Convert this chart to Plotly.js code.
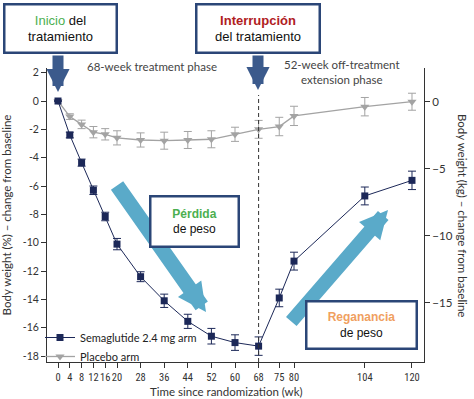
<!DOCTYPE html>
<html>
<head>
<meta charset="utf-8">
<script src="https://cdn.plot.ly/plotly-3.0.1.min.js"></script>
<style>html,body{margin:0;padding:0;background:#fff;}#chart{width:474px;height:399px;}</style>
</head>
<body>
<div id="chart"></div>
<script>
// Data
const weeks = [0, 4, 8, 12, 16, 20, 28, 36, 44, 52, 60, 68, 75, 80, 104, 120];
const semaglutide = [0, -2.4, -4.35, -6.3, -8.15, -10.1, -12.4, -14.1, -15.55, -16.6, -17.05, -17.3, -13.9, -11.3, -6.7, -5.6];
const semaglutideErr = [0, 0.2, 0.25, 0.3, 0.3, 0.4, 0.35, 0.47, 0.5, 0.55, 0.55, 0.65, 0.62, 0.63, 0.63, 0.65];
const placebo = [0, -1.1, -1.65, -2.2, -2.35, -2.6, -2.75, -2.8, -2.75, -2.7, -2.35, -2.0, -1.8, -1.05, -0.4, -0.05];
const placeboErr = [0, 0.2, 0.3, 0.4, 0.4, 0.5, 0.5, 0.6, 0.6, 0.6, 0.5, 0.63, 0.65, 0.68, 0.65, 0.6];
const xTicks = [0, 4, 8, 12, 16, 20, 28, 36, 44, 52, 60, 68, 75, 80, 104, 120];
const leftTicks = [2, 0, -2, -4, -6, -8, -10, -12, -14, -16, -18];
const rightTicks = [0, -5, -10, -15];
const seriesNames = ['Semaglutide 2.4 mg arm', 'Placebo arm'];

const navy = '#1c2858';
const gray = '#a3a3a3';
const boxBlue = '#2b4677';
const darkArrow = '#3b5a8c';
const lightArrow = '#5aaac9';
const FAM = 'Lato, "Open Sans", sans-serif';
const axisFont = {family: FAM, size: 10.5, color: '#333'};

const traces = [
  {
    x: weeks, y: placebo, name: seriesNames[1], type: 'scatter', mode: 'lines+markers',
    line: {color: gray, width: 1.3},
    marker: {symbol: 'triangle-down', size: 8, color: gray},
    error_y: {type: 'data', array: placeboErr, visible: true, color: gray, thickness: 1, width: 4}
  },
  {
    x: weeks, y: semaglutide, name: seriesNames[0], type: 'scatter', mode: 'lines+markers',
    line: {color: navy, width: 1},
    marker: {symbol: 'square', size: 7, color: navy},
    error_y: {type: 'data', array: semaglutideErr, visible: true, color: navy, thickness: 1, width: 4}
  },
  // empty trace so that the right (kg) axis is drawn
  {x: [], y: [], type: 'scatter', mode: 'markers', yaxis: 'y2', showlegend: false, hoverinfo: 'skip'}
];

function px(x) { return (x - 47) / 377; }
function py(y) { return (362 - y) / 294; }

function ann(x, y, text, extra) {
  return Object.assign({xref: 'paper', yref: 'paper', x: px(x), y: py(y), xanchor: 'center', yanchor: 'middle',
    text: text, showarrow: false}, extra || {});
}
function arrow(tipX, tipY, ax, ay, w, head, size, color) {
  return {xref: 'paper', yref: 'paper', x: px(tipX), y: py(tipY), ax: ax, ay: ay, text: '', showarrow: true,
    arrowhead: head, arrowwidth: w, arrowsize: size, arrowcolor: color, standoff: 0};
}
function boxStyle(size, w, h) {
  return {width: w, height: h, borderpad: 1, borderwidth: 2.5, bordercolor: boxBlue, bgcolor: '#fff',
    font: {family: '"Liberation Sans", Arial, sans-serif', size: size, color: '#111'}};
}

const layout = {
  width: 474, height: 399,
  margin: {l: 47, r: 50, t: 68, b: 37},
  paper_bgcolor: '#fff', plot_bgcolor: '#fff',
  font: axisFont,
  showlegend: true,
  legend: {
    x: px(40), y: py(371), xanchor: 'left', yanchor: 'bottom',
    bgcolor: 'rgba(0,0,0,0)', traceorder: 'reversed',
    font: {family: FAM, size: 11, color: '#222'},
    itemwidth: 30, tracegroupgap: 0
  },
  xaxis: {
    range: [-3.73, 124.07], tickmode: 'array', tickvals: xTicks, ticktext: xTicks.map(String), tickangle: 0,
    showline: true, linecolor: '#333', linewidth: 1, ticks: 'outside', ticklen: 5, tickcolor: '#333',
    showgrid: false, zeroline: false, automargin: false,
    tickfont: {family: '"Liberation Sans Narrow", "Roboto Condensed", Lato, sans-serif', size: 10.5, color: '#333'}
  },
  yaxis: {
    range: [-18.42, 2.33], tickmode: 'array', tickvals: leftTicks, ticktext: leftTicks.map(String),
    showline: true, linecolor: '#333', linewidth: 1, ticks: 'outside', ticklen: 5, tickcolor: '#333',
    showgrid: false, zeroline: false, tickfont: axisFont, automargin: false,
    title: {text: 'Body weight (%) – change from baseline', font: {family: FAM, size: 11.5, color: '#333'}, standoff: 8}
  },
  yaxis2: {
    overlaying: 'y', side: 'right', range: [-19.4, 2.51], automargin: false,
    tickmode: 'array', tickvals: rightTicks, ticktext: rightTicks.map(v => v === 0 ? '0' : '\u2212' + Math.abs(v)),
    showline: true, linecolor: '#333', linewidth: 1, ticks: 'outside', ticklen: 5, tickcolor: '#333',
    showgrid: false, zeroline: false, tickfont: {family: FAM, size: 11.5, color: '#333'}
  },
  shapes: [
    {type: 'line', xref: 'x', yref: 'paper', x0: 68, x1: 68, y0: 0, y1: py(95),
     line: {color: '#333', width: 1, dash: '4px,3px'}}
  ],
  annotations: [
    // x axis title
    ann(226.5, 392, 'Time since randomization (wk)', {font: {family: FAM, size: 11.5, color: '#333'}}),
    // right axis title (reads top to bottom)
    ann(463, 215, 'Body weight (kg) – change from baseline', {textangle: 90, font: {family: FAM, size: 11.5, color: '#333'}}),
    // phase labels
    ann(152, 66, '68-week treatment phase', {font: {family: FAM, size: 11.5, color: '#444'}}),
    ann(342, 72, '52-week off-treatment<br>extension phase', {font: {family: FAM, size: 11.5, color: '#444'}}),
    // dark arrows
    arrow(58, 92, 0, -38, 11, 2, 0.42, darkArrow),
    arrow(258, 90, 0, -36, 11, 2, 0.42, darkArrow),
    // light blue arrows
    arrow(206, 312, -90, -128, 15, 2, 0.38, lightArrow),
    arrow(388, 210, -98, 113, 14, 2, 0.4, lightArrow),
    // boxes
    ann(60, 28.5, '<span style="color:#4caf50">Inicio</span> del<br>tratamiento', boxStyle(13, 108, 44)),
    ann(258, 28.5, '<b><span style="color:#b0201e">Interrupción</span></b><br>del tratamiento', boxStyle(13, 119, 44)),
    ann(194.5, 221, '<b><span style="color:#4caf50">Pérdida</span></b><br>de peso', boxStyle(12, 84, 46)),
    ann(361.5, 325, '<b><span style="color:#f0a060">Reganancia</span></b><br>de peso', boxStyle(12, 106, 43))
  ]
};

Plotly.newPlot('chart', traces, layout, {displayModeBar: false, staticPlot: true});
</script>
</body>
</html>
